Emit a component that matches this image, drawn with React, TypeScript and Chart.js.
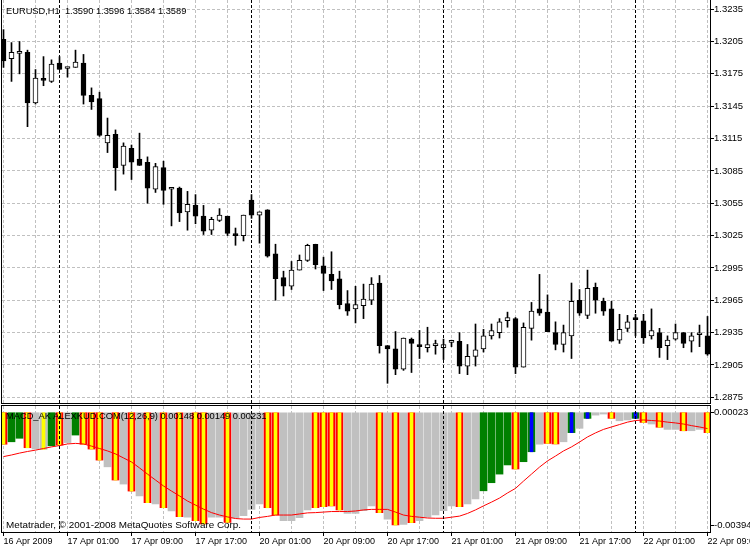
import React, { useEffect, useRef } from 'react';
import { Chart, registerables } from 'chart.js';

Chart.register(...registerables);

// ---------------- data ----------------
// EURUSD H1, bars from 16 Apr 2009 17:00 to 22 Apr 2009 09:00
const OPEN = [
  1.3207, 1.3189, 1.3194, 1.3195, 1.3148, 1.3170, 1.3168, 1.3185, 1.3180, 1.3181,
  1.3185, 1.3155, 1.3152, 1.3111, 1.3119, 1.3090, 1.3106, 1.3096, 1.3093, 1.3068,
  1.3088, 1.3068, 1.3069, 1.3047, 1.3053, 1.3043, 1.3030, 1.3039, 1.3043, 1.3026,
  1.3025, 1.3058, 1.3044, 1.3049, 1.3008, 1.2986, 1.2978, 1.2993, 1.3002, 1.3017,
  1.2997, 1.2989, 1.2985, 1.2962, 1.2957, 1.2960, 1.2965, 1.2981, 1.2923, 1.2920,
  1.2901, 1.2929, 1.2924, 1.2921, 1.2923, 1.2921, 1.2926, 1.2927, 1.2904, 1.2913,
  1.2920, 1.2932, 1.2935, 1.2946, 1.2948, 1.2903, 1.2939, 1.2957, 1.2954, 1.2935,
  1.2924, 1.2932, 1.2965, 1.2951, 1.2977, 1.2964, 1.2957, 1.2928, 1.2939, 1.2949,
  1.2946, 1.2932, 1.2935, 1.2923, 1.2929, 1.2935, 1.2927, 1.2933, 1.2932,
];
const HIGH = [
  1.3216, 1.3204, 1.3205, 1.3197, 1.3179, 1.3191, 1.3188, 1.3191, 1.3181, 1.3197,
  1.3193, 1.3162, 1.3158, 1.3134, 1.3123, 1.3111, 1.3109, 1.3120, 1.3098, 1.3092,
  1.3094, 1.3069, 1.3070, 1.3066, 1.3063, 1.3053, 1.3042, 1.3050, 1.3043, 1.3032,
  1.3044, 1.3063, 1.3047, 1.3049, 1.3017, 1.2992, 1.3001, 1.3007, 1.3017, 1.3017,
  1.3005, 1.3010, 1.2992, 1.2974, 1.2978, 1.2980, 1.2986, 1.2988, 1.2923, 1.2936,
  1.2930, 1.2930, 1.2937, 1.2940, 1.2928, 1.2929, 1.2928, 1.2935, 1.2924, 1.2943,
  1.2938, 1.2943, 1.2948, 1.2954, 1.2949, 1.2944, 1.2963, 1.2989, 1.2970, 1.2945,
  1.2942, 1.2981, 1.2975, 1.2993, 1.2981, 1.2967, 1.2964, 1.2952, 1.2951, 1.2952,
  1.2952, 1.2957, 1.2939, 1.2932, 1.2943, 1.2935, 1.2935, 1.2942, 1.2950,
];
const LOW = [
  1.3181, 1.3168, 1.3175, 1.3126, 1.3147, 1.3164, 1.3167, 1.3179, 1.3172, 1.3181,
  1.3147, 1.3142, 1.3117, 1.3102, 1.3067, 1.3082, 1.3077, 1.3090, 1.3055, 1.3065,
  1.3054, 1.3034, 1.3038, 1.3030, 1.3036, 1.3026, 1.3026, 1.3038, 1.3025, 1.3016,
  1.3020, 1.3041, 1.3018, 1.3005, 1.2965, 1.2969, 1.2975, 1.2993, 1.3001, 1.2994,
  1.2974, 1.2975, 1.2957, 1.2951, 1.2944, 1.2948, 1.2961, 1.2916, 1.2888, 1.2896,
  1.2900, 1.2898, 1.2911, 1.2917, 1.2915, 1.2910, 1.2922, 1.2897, 1.2896, 1.2904,
  1.2917, 1.2929, 1.2930, 1.2940, 1.2897, 1.2903, 1.2928, 1.2951, 1.2936, 1.2919,
  1.2917, 1.2911, 1.2951, 1.2948, 1.2953, 1.2951, 1.2927, 1.2925, 1.2936, 1.2932,
  1.2925, 1.2929, 1.2912, 1.2910, 1.2928, 1.2921, 1.2917, 1.2922, 1.2914,
];
const CLOSE = [
  1.3187, 1.3195, 1.3196, 1.3148, 1.3171, 1.3169, 1.3184, 1.3179, 1.3180, 1.3186,
  1.3155, 1.3149, 1.3118, 1.3118, 1.3088, 1.3108, 1.3093, 1.3090, 1.3069, 1.3089,
  1.3067, 1.3068, 1.3046, 1.3054, 1.3043, 1.3029, 1.3040, 1.3044, 1.3027, 1.3025,
  1.3044, 1.3044, 1.3047, 1.3006, 1.2985, 1.2978, 1.2993, 1.3002, 1.3016, 1.2998,
  1.2990, 1.2983, 1.2961, 1.2955, 1.2961, 1.2966, 1.2980, 1.2923, 1.2920, 1.2901,
  1.2930, 1.2925, 1.2922, 1.2924, 1.2923, 1.2924, 1.2926, 1.2904, 1.2913, 1.2919,
  1.2932, 1.2937, 1.2945, 1.2949, 1.2903, 1.2940, 1.2955, 1.2953, 1.2936, 1.2924,
  1.2935, 1.2964, 1.2953, 1.2976, 1.2965, 1.2955, 1.2927, 1.2938, 1.2945, 1.2947,
  1.2930, 1.2937, 1.2921, 1.2928, 1.2935, 1.2925, 1.2932, 1.2933, 1.2915,
];

// x labels, one every LABEL_STEP bars starting at bar 0
const TIME_LABELS = [
  '16 Apr 2009', '17 Apr 01:00', '17 Apr 09:00', '17 Apr 17:00', '20 Apr 01:00', '20 Apr 09:00',
  '20 Apr 17:00', '21 Apr 01:00', '21 Apr 09:00', '21 Apr 17:00', '22 Apr 01:00', '22 Apr 09:00',
];
const LABEL_STEP = 8;
const GRID_STEP = 4;
// period separators (00:00 bars of each day)
const SEPARATOR_BARS = [7, 31, 55, 79];

const PRICE_TICKS = [
  1.2875, 1.2905, 1.2935, 1.2965, 1.2995, 1.3025, 1.3055, 1.3085, 1.3115, 1.3145, 1.3175, 1.3205, 1.3235,
];

// MACD indicator window
const MACD_TICKS = [0.00023, -0.00394];
const HIST_BASE = 0.00023;
const MACD_HIST = [
  -0.00094, -0.00085, -0.00072, -0.00107, -0.00112, -0.00113, -0.00100, -0.00097, -0.00088, -0.00060,
  -0.00094, -0.00112, -0.00153, -0.00178, -0.00227, -0.00242, -0.00268, -0.00286, -0.00311, -0.00316,
  -0.00330, -0.00342, -0.00363, -0.00365, -0.00378, -0.00390, -0.00365, -0.00365, -0.00384, -0.00368,
  -0.00359, -0.00336, -0.00316, -0.00330, -0.00357, -0.00378, -0.00378, -0.00367, -0.00338, -0.00330,
  -0.00326, -0.00323, -0.00338, -0.00351, -0.00351, -0.00341, -0.00323, -0.00348, -0.00372, -0.00394,
  -0.00392, -0.00385, -0.00378, -0.00365, -0.00357, -0.00341, -0.00323, -0.00326, -0.00316, -0.00297,
  -0.00267, -0.00237, -0.00205, -0.00171, -0.00186, -0.00159, -0.00122, -0.00094, -0.00091, -0.00093,
  -0.00085, -0.00051, -0.00035, 0.00002, 0.00014, 0.00018, 0.00002, -0.00007, -0.00004, 0.00002,
  -0.00013, -0.00019, -0.00031, -0.00039, -0.00039, -0.00044, -0.00044, -0.00039, -0.00051,
];
const MACD_SIGNAL = [
  -0.00140, -0.00134, -0.00127, -0.00121, -0.00116, -0.00110, -0.00104, -0.00099, -0.00093, -0.00091,
  -0.00093, -0.00101, -0.00110, -0.00119, -0.00130, -0.00145, -0.00160, -0.00182, -0.00205, -0.00227,
  -0.00249, -0.00268, -0.00286, -0.00305, -0.00320, -0.00335, -0.00348, -0.00357, -0.00364, -0.00370,
  -0.00372, -0.00372, -0.00366, -0.00362, -0.00357, -0.00357, -0.00357, -0.00353, -0.00349, -0.00348,
  -0.00346, -0.00344, -0.00344, -0.00344, -0.00342, -0.00338, -0.00336, -0.00336, -0.00336, -0.00346,
  -0.00357, -0.00362, -0.00365, -0.00368, -0.00369, -0.00369, -0.00365, -0.00361, -0.00351, -0.00338,
  -0.00323, -0.00309, -0.00294, -0.00275, -0.00258, -0.00231, -0.00205, -0.00179, -0.00156, -0.00138,
  -0.00119, -0.00104, -0.00086, -0.00067, -0.00052, -0.00039, -0.00030, -0.00021, -0.00012, -0.00006,
  -0.00004, -0.00006, -0.00008, -0.00012, -0.00015, -0.00019, -0.00025, -0.00030, -0.00036,
];
// histogram state per bar: R = red/yellow, g = grey, Y = grey/yellow, G = green, B = green/blue
const HIST_KIND = (
  'RGGRgYGRgG' + 'RRRgRgRgRg' + 'RgRgRRggRg' + 'gggRRggggR' + 'RRRggggRgR' +
  'gRgggggRgg' + 'GGGGRGBgRR' + 'gBgBggRggB' + 'RgRggRggR'
).split('');

// ---------------- styling / layout ----------------
const FONT = '"Liberation Sans", Arial, sans-serif';
const GRID_COLOR = '#c0c0c0';
const BASE_COLOR: Record<string, string> = { R: '#ff0000', g: '#c0c0c0', Y: '#c0c0c0', G: '#008000', B: '#008000' };
const STRIPE_COLOR: Record<string, string> = { R: '#ffff00', Y: '#ffff00', B: '#0000ff' };

const W = 750;
const TOP_H = 405;
const BOT_H = 145;
const PLOT_LEFT = 2;
const AXIS_W = 39;
const BAR_PX = 8;
const X_MIN = -0.1875;
const X_MAX = X_MIN + (W - AXIS_W - PLOT_LEFT) / BAR_PX;
const PRICE_MAX = 1.32435;
const PRICE_MIN = 1.28688;
const MACD_MAX = 0.000479;
const MACD_MIN = -0.004237;
const BOT_PLOT_BOTTOM = 128;

const frame = {
  id: 'mtFrame',
  afterDatasetsDraw(chart: any, _a: any, opts: any) {
    const { ctx, chartArea: a } = chart;
    const xs = chart.scales.x;
    ctx.save();
    ctx.lineWidth = 1;
    ctx.strokeStyle = '#000';
    ctx.setLineDash([3, 2]);
    for (const b of SEPARATOR_BARS) {
      const px = Math.floor(xs.getPixelForValue(b)) + 0.5;
      ctx.beginPath();
      ctx.moveTo(px, a.top);
      ctx.lineTo(px, a.bottom);
      ctx.stroke();
    }
    ctx.setLineDash([]);
    ctx.beginPath();
    ctx.moveTo(a.left - 0.5, a.top);
    ctx.lineTo(a.left - 0.5, a.bottom);
    ctx.moveTo(a.right - 0.5, a.top);
    ctx.lineTo(a.right - 0.5, a.bottom);
    ctx.moveTo(a.left - 1, a.bottom - 0.5);
    ctx.lineTo(a.right, a.bottom - 0.5);
    if (opts && opts.top) {
      ctx.moveTo(a.left - 1, a.top - 0.5);
      ctx.lineTo(a.right, a.top - 0.5);
    }
    ctx.stroke();
    ctx.restore();
  },
};

const gridBars = OPEN.map((_, i) => i).filter((i) => i % GRID_STEP === 0);

function xScale(showLabels: boolean) {
  return {
    type: 'linear',
    min: X_MIN,
    max: X_MAX,
    offset: false,
    grid: {
      color: GRID_COLOR,
      lineWidth: 1,
      offset: false,
      drawTicks: showLabels,
      tickLength: 3,
      tickColor: (c: any) => (c.tick && c.tick.value % LABEL_STEP === 0 ? '#000' : 'rgba(0,0,0,0)'),
    },
    border: { display: false, dash: [3, 2] },
    ticks: {
      display: showLabels,
      autoSkip: false,
      maxRotation: 0,
      minRotation: 0,
      align: 'start',
      padding: 0,
      color: '#000',
      font: { family: FONT, size: 9 },
      callback: (v: any) => (v % LABEL_STEP === 0 ? TIME_LABELS[v / LABEL_STEP] || '' : ''),
    },
    afterBuildTicks: (s: any) => {
      s.ticks = gridBars.map((v) => ({ value: v }));
    },
    afterFit: (s: any) => {
      s.height = showLabels ? BOT_H - BOT_PLOT_BOTTOM : 0;
      s.paddingLeft = 0;
      s.paddingRight = 0;
      s.paddingTop = 0;
      s.paddingBottom = 0;
    },
  };
}

function yScale(min: number, max: number, ticks: number[], digits: number, onArea: boolean) {
  return {
    type: 'linear',
    position: 'right',
    min,
    max,
    beginAtZero: false,
    grid: {
      color: GRID_COLOR,
      drawOnChartArea: onArea,
      tickColor: '#000',
      tickLength: 3,
      tickBorderDash: [],
    },
    border: { display: false, dash: [3, 2] },
    ticks: {
      color: '#000',
      padding: 0,
      autoSkip: false,
      font: { family: FONT, size: 9.5 },
      callback: (v: any) => Number(v).toFixed(digits),
    },
    afterBuildTicks: (s: any) => {
      s.ticks = ticks.map((v) => ({ value: v }));
    },
    afterFit: (s: any) => {
      s.width = AXIS_W;
      s.paddingTop = 0;
      s.paddingBottom = 0;
    },
  };
}

export default function App() {
  const topRef = useRef<HTMLCanvasElement>(null);
  const botRef = useRef<HTMLCanvasElement>(null);

  useEffect(() => {
    document.body.style.margin = '0';
    Chart.defaults.font.family = FONT;
    const idx = OPEN.map((_, i) => i);

    const top = new Chart(topRef.current as HTMLCanvasElement, {
      type: 'bar',
      data: {
        datasets: [
          {
            label: 'wick',
            data: idx.map((i) => ({ x: i, y: [LOW[i], HIGH[i]] })),
            backgroundColor: '#000',
            barThickness: 1,
            grouped: false,
            order: 2,
            clip: 0,
          },
          {
            label: 'body',
            data: idx.map((i) => ({ x: i, y: [OPEN[i], CLOSE[i]] })),
            backgroundColor: idx.map((i) => (CLOSE[i] >= OPEN[i] ? '#ffffff' : '#000000')),
            borderColor: '#000',
            borderWidth: 1,
            borderSkipped: false,
            barThickness: 5,
            minBarLength: 2,
            grouped: false,
            order: 1,
            clip: 0,
          },
        ],
      } as any,
      options: {
        responsive: false,
        maintainAspectRatio: false,
        animation: false,
        events: [],
        layout: { padding: { left: PLOT_LEFT, top: 0, right: 0, bottom: 1 } },
        plugins: { legend: { display: false }, tooltip: { enabled: false }, mtFrame: { top: false } } as any,
        scales: {
          x: xScale(false),
          y: yScale(PRICE_MIN, PRICE_MAX, PRICE_TICKS, 4, true),
        } as any,
      },
      plugins: [frame],
    });

    const striped = idx.filter((i) => STRIPE_COLOR[HIST_KIND[i]]);
    const bot = new Chart(botRef.current as HTMLCanvasElement, {
      type: 'bar',
      data: {
        datasets: [
          {
            type: 'line',
            label: 'signal',
            data: idx.map((i) => ({ x: i, y: MACD_SIGNAL[i] })),
            borderColor: '#ff0000',
            borderWidth: 1,
            pointRadius: 0,
            tension: 0,
            order: 0,
            clip: 0,
          },
          {
            label: 'stripe',
            data: striped.map((i) => ({ x: i, y: [HIST_BASE, MACD_HIST[i]] })),
            backgroundColor: striped.map((i) => STRIPE_COLOR[HIST_KIND[i]]),
            barThickness: 3,
            grouped: false,
            order: 1,
            clip: 0,
          },
          {
            label: 'hist',
            data: idx.map((i) => ({ x: i, y: [HIST_BASE, MACD_HIST[i]] })),
            backgroundColor: idx.map((i) => BASE_COLOR[HIST_KIND[i]]),
            barThickness: 7,
            grouped: false,
            order: 2,
            clip: 0,
          },
        ],
      } as any,
      options: {
        responsive: false,
        maintainAspectRatio: false,
        animation: false,
        events: [],
        layout: { padding: { left: PLOT_LEFT, top: 1, right: 0, bottom: 0 } },
        plugins: { legend: { display: false }, tooltip: { enabled: false }, mtFrame: { top: true } } as any,
        scales: {
          x: xScale(true),
          y: yScale(MACD_MIN, MACD_MAX, MACD_TICKS, 5, false),
        } as any,
      },
      plugins: [frame],
    });

    return () => {
      top.destroy();
      bot.destroy();
    };
  }, []);

  const text = (size: number): React.CSSProperties => ({
    position: 'absolute',
    left: 6,
    font: `${size}px ${FONT}`,
    lineHeight: '11px',
    whiteSpace: 'pre',
    color: '#000',
  });

  return (
    <div style={{ position: 'relative', width: W, height: TOP_H + BOT_H, background: '#fff', overflow: 'hidden' }}>
      <canvas ref={topRef} width={W} height={TOP_H} style={{ position: 'absolute', left: 0, top: 0, display: 'block' }} />
      <canvas ref={botRef} width={W} height={BOT_H} style={{ position: 'absolute', left: 0, top: TOP_H, display: 'block' }} />
      <div style={{ ...text(9.3), top: 6.3 }}>EURUSD,H1  1.3590 1.3596 1.3584 1.3589</div>
      <div style={{ ...text(9.3), top: 411.3 }}>MACD_AK ALEXKUD.COM(12,26,9) 0.00148 0.00149 0.00231</div>
      <div style={{ ...text(9.9), top: 519.4 }}>Metatrader, © 2001-2008 MetaQuotes Software Corp.</div>
    </div>
  );
}
